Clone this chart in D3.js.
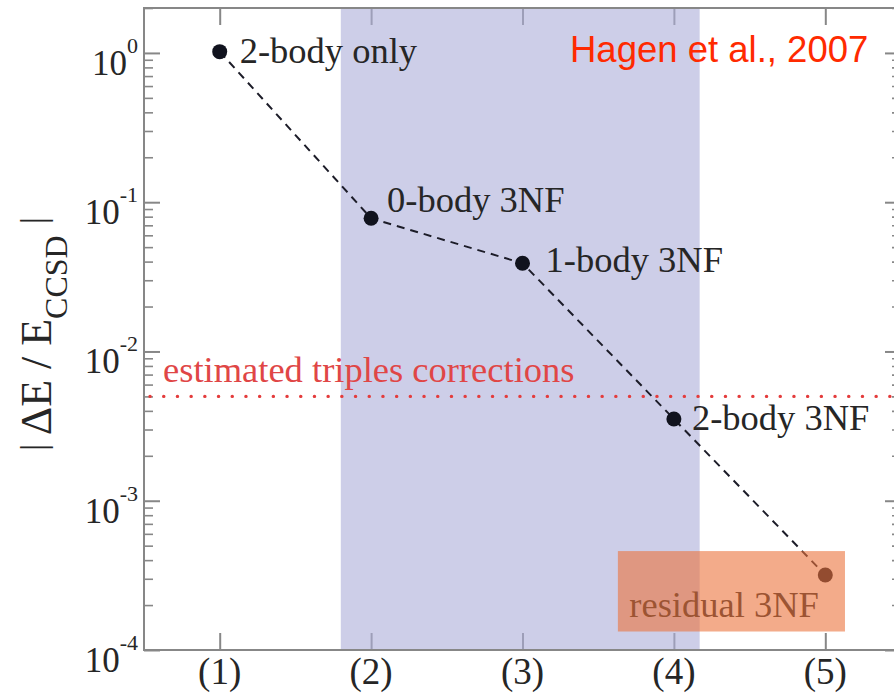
<!DOCTYPE html>
<html>
<head>
<meta charset="utf-8">
<script src="https://cdn.jsdelivr.net/npm/d3@7/dist/d3.min.js"></script>
<style>
  html, body { margin: 0; padding: 0; background: #fff; }
  svg { display: block; }
</style>
</head>
<body>
<script>
// Contribution hierarchy of three-nucleon forces in coupled-cluster calculations
const steps      = [1, 2, 3, 4, 5];
const stepLabels = ["(1)", "(2)", "(3)", "(4)", "(5)"];
const ratios     = [1.02, 0.078, 0.039, 0.00353, 0.000318];
const pointNames = ["2-body only", "0-body 3NF", "1-body 3NF", "2-body 3NF", "residual 3NF"];
const yTickExps  = [0, -1, -2, -3, -4];

// reference level and annotation regions (data units)
const triplesLevel = 0.005;
const triplesText  = "estimated triples corrections";
const bandRange    = [1.8, 4.17];
const boxX         = [3.63, 5.13];
const boxY         = [1.33e-4, 4.6e-4];
const citation     = "Hagen et al., 2007";

// label placement relative to each point (px)
const labelOffsets = [[20, 11], [16, -6], [23, 9], [18, 11], [-196, 42]];

const W = 894, H = 694;
const pLeft = 144, pTop = 8, pRight = 901, pBottom = 650;

const svg = d3.select("body").append("svg").attr("width", W).attr("height", H);

const x = d3.scaleLinear().domain([0.5, 5.5]).range([pLeft, pRight]);
const y = d3.scaleLog().domain([1e-4, 2]).range([pBottom, pTop]);

const frameColor = "#878787";
const serif = "'Liberation Serif', 'Times New Roman', serif";

// minor ticks for the log axis
const minorTicks = [];
for (let e = -4; e < 1; e++) for (let m = 2; m <= 9; m++) minorTicks.push(m * Math.pow(10, e));
const majorTicks = yTickExps.map(e => Math.pow(10, e));

const axes = svg.append("g");
function styleAxis(g, w) {
  g.select(".domain").remove();
  g.selectAll(".tick line").attr("stroke", frameColor).attr("stroke-width", w);
  g.selectAll(".tick text").remove();
}
axes.append("g").attr("transform", `translate(${pLeft},0)`)
  .call(d3.axisLeft(y).tickValues(majorTicks).tickSize(-16).tickFormat(""))
  .call(g => styleAxis(g, 2));
axes.append("g").attr("transform", `translate(${pLeft},0)`)
  .call(d3.axisLeft(y).tickValues(minorTicks).tickSize(-9).tickFormat(""))
  .call(g => styleAxis(g, 1.6));
axes.append("g").attr("transform", `translate(${pRight},0)`)
  .call(d3.axisRight(y).tickValues(majorTicks).tickSize(-16).tickFormat(""))
  .call(g => styleAxis(g, 2));
axes.append("g").attr("transform", `translate(${pRight},0)`)
  .call(d3.axisRight(y).tickValues(minorTicks).tickSize(-9).tickFormat(""))
  .call(g => styleAxis(g, 1.6));
axes.append("g").attr("transform", `translate(0,${pBottom})`)
  .call(d3.axisBottom(x).tickValues(steps).tickSize(-17).tickFormat(""))
  .call(g => styleAxis(g, 2));
axes.append("g").attr("transform", `translate(0,${pTop})`)
  .call(d3.axisTop(x).tickValues(steps).tickSize(-17).tickFormat(""))
  .call(g => styleAxis(g, 2));

// frame
axes.append("rect")
  .attr("x", pLeft).attr("y", pTop)
  .attr("width", pRight - pLeft).attr("height", pBottom - pTop)
  .attr("fill", "none").attr("stroke", frameColor).attr("stroke-width", 2);

// shaded band of the 3NF decomposition
svg.append("rect")
  .attr("x", x(bandRange[0])).attr("y", pTop + 1)
  .attr("width", x(bandRange[1]) - x(bandRange[0]))
  .attr("height", pBottom - pTop - 2)
  .attr("fill", "rgb(172,173,217)").attr("fill-opacity", 0.6);

// y tick labels 10^n
const yLab = svg.append("g").attr("font-family", serif).attr("fill", "#262626");
yTickExps.forEach(e => {
  const t = yLab.append("text")
    .attr("x", 138).attr("y", y(Math.pow(10, e)) + 22)
    .attr("text-anchor", "end").attr("font-size", 35);
  t.append("tspan").text("10");
  t.append("tspan").attr("font-size", 22).attr("dy", -22).text(String(e));
});

// x tick labels
svg.append("g").selectAll("text").data(steps).join("text")
  .attr("x", d => x(d)).attr("y", 684)
  .attr("text-anchor", "middle")
  .attr("font-family", serif).attr("font-size", 37).attr("fill", "#262626")
  .text((d, i) => stepLabels[i]);

// y axis title: | ΔE / E_CCSD |
const yt = svg.append("text")
  .attr("transform", `translate(51,${(pTop + pBottom) / 2 + 5}) rotate(-90)`)
  .attr("text-anchor", "middle")
  .attr("font-family", serif).attr("font-size", 44).attr("fill", "#262626");
yt.append("tspan").attr("font-size", 36).attr("dy", -6).text("|");
yt.append("tspan").attr("dy", 6).text(" \u0394E / E");
yt.append("tspan").attr("font-size", 32).attr("dy", 16).text("CCSD");
yt.append("tspan").attr("dy", -16).text(" ");
yt.append("tspan").attr("font-size", 36).attr("dy", -6).text("|");

// triples correction level
svg.append("line")
  .attr("x1", pLeft + 6).attr("x2", pRight)
  .attr("y1", y(triplesLevel)).attr("y2", y(triplesLevel))
  .attr("stroke", "#e43c3c").attr("stroke-width", 3.4)
  .attr("stroke-linecap", "round").attr("stroke-dasharray", "0.1,13.6");
svg.append("text")
  .attr("x", 163).attr("y", y(triplesLevel) - 14)
  .attr("font-family", serif).attr("font-size", 36.5).attr("fill", "#e04646")
  .text(triplesText);

// dashed connecting line
const line = d3.line().x((d, i) => x(steps[i])).y(d => y(d));
svg.append("path")
  .datum(ratios)
  .attr("d", line)
  .attr("fill", "none").attr("stroke", "#1c1c28").attr("stroke-width", 2)
  .attr("stroke-dasharray", "8,6");

// points
svg.append("g").selectAll("circle").data(ratios).join("circle")
  .attr("cx", (d, i) => x(steps[i])).attr("cy", d => y(d))
  .attr("r", 7.5).attr("fill", "#11131e");

// point labels
svg.append("g").selectAll("text").data(ratios).join("text")
  .attr("x", (d, i) => x(steps[i]) + labelOffsets[i][0])
  .attr("y", (d, i) => y(d) + labelOffsets[i][1])
  .attr("font-family", serif).attr("font-size", 36.5).attr("fill", "#262626")
  .text((d, i) => pointNames[i]);

// residual highlight box
svg.append("rect")
  .attr("x", x(boxX[0])).attr("y", y(boxY[1]))
  .attr("width", x(boxX[1]) - x(boxX[0]))
  .attr("height", y(boxY[0]) - y(boxY[1]))
  .attr("fill", "rgb(235,115,60)").attr("fill-opacity", 0.6);

// citation
svg.append("text")
  .attr("x", 570).attr("y", 62)
  .attr("font-family", "'Liberation Sans', Arial, sans-serif")
  .attr("font-size", 36.5).attr("fill", "#ff2a00")
  .text(citation);
</script>
</body>
</html>
